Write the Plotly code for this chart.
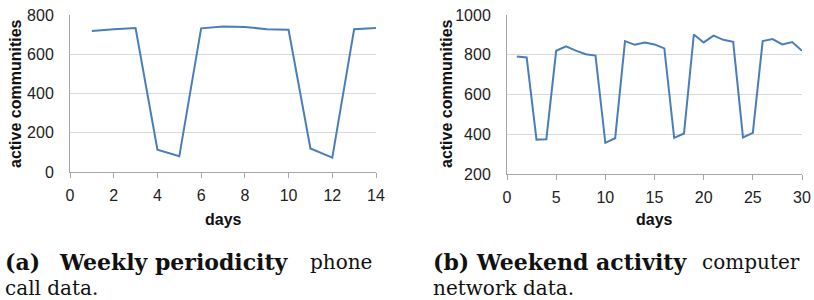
import plotly.graph_objects as go

days_a = list(range(1, 15))
comm_a = [718, 728, 734, 114, 80, 732, 742, 739, 728, 725, 120, 73, 728, 734]

days_b = list(range(1, 31))
comm_b = [791, 786, 373, 375, 820, 842, 821, 803, 796, 357, 380, 869, 850, 862, 852,
          832, 382, 404, 902, 862, 896, 875, 865, 384, 407, 869, 879, 852, 864, 820]

x_ticks_a = [0, 2, 4, 6, 8, 10, 12, 14]
y_ticks_a = [0, 200, 400, 600, 800]
x_ticks_b = [0, 5, 10, 15, 20, 25, 30]
y_ticks_b = [200, 400, 600, 800, 1000]

W, H = 814, 300
line_color = "#4a7ebb"
tick_font = dict(family="Liberation Sans", size=16, color="#222")

fig = go.Figure()
fig.add_trace(go.Scatter(x=days_a, y=comm_a, mode="lines", line=dict(color=line_color, width=2),
                         xaxis="x", yaxis="y", showlegend=False, cliponaxis=False))
fig.add_trace(go.Scatter(x=days_b, y=comm_b, mode="lines", line=dict(color=line_color, width=2),
                         xaxis="x2", yaxis="y2", showlegend=False, cliponaxis=False))

def xax(domain, rng, ticks, anchor):
    return dict(domain=domain, range=rng, tickvals=ticks, showgrid=False, zeroline=False,
                showline=True, linecolor="#a6a6a6", linewidth=1, ticks="outside",
                ticklen=5, tickcolor="#a6a6a6", tickfont=tick_font, anchor=anchor,
                automargin=False, ticklabelstandoff=4)

def yax(domain, rng, ticks, anchor):
    return dict(domain=domain, range=rng, tickvals=ticks, showgrid=True, gridcolor="#d9d9d9",
                zeroline=False, showline=True, linecolor="#a6a6a6", linewidth=1, ticks="",
                tickfont=tick_font, anchor=anchor, automargin=False, ticklabelstandoff=12)

fig.update_layout(
    width=W, height=H, margin=dict(l=0, r=0, t=0, b=0),
    plot_bgcolor="white", paper_bgcolor="white",
    xaxis=xax([70 / W, 376 / W], [0, 14], x_ticks_a, "y"),
    yaxis=yax([1 - 172 / H, 1 - 15 / H], [0, 800], y_ticks_a, "x"),
    xaxis2=xax([507 / W, 802 / W], [0, 30], x_ticks_b, "y2"),
    yaxis2=yax([1 - 174 / H, 1 - 15 / H], [200, 1000], y_ticks_b, "x2"),
)

title_font = dict(family="Liberation Sans", size=16, color="#111")
ann = [
    dict(text="<b>active communities</b>", x=15 / W, y=1 - 94 / H, textangle=-90, font=title_font),
    dict(text="<b>active communities</b>", x=446 / W, y=1 - 94 / H, textangle=-90, font=title_font),
    dict(text="<b>days</b>", x=223 / W, y=1 - 219 / H, font=title_font),
    dict(text="<b>days</b>", x=654 / W, y=1 - 219 / H, font=title_font),
]
for a in ann:
    a.update(xanchor="center", yanchor="middle")

cap_font = dict(family="DejaVu Serif", size=20, color="#111")
bold_font = dict(family="DejaVu Serif", size=22, color="#111")
L1, L2 = 262, 288
caps = [
    ("<b>(a)</b>", 4, L1, "left", bold_font),
    ("<b>Weekly periodicity</b>", 58, L1, "left", bold_font),
    ("phone", 373, L1, "right", cap_font),
    ("call data.", 4, L2, "left", cap_font),
    ("<b>(b) Weekend activity</b>", 432, L1, "left", bold_font),
    ("computer", 801, L1, "right", cap_font),
    ("network data.", 432, L2, "left", cap_font),
]
for t, x, y, xa, f in caps:
    ann.append(dict(text=t, x=x / W, y=1 - y / H, xanchor=xa, yanchor="middle", font=f))

for a in ann:
    a.update(xref="paper", yref="paper", showarrow=False, borderpad=0)
fig.update_layout(annotations=ann)

fig.write_html("out.html", config={"displayModeBar": False},
               post_script="document.body.style.margin='0px';")
